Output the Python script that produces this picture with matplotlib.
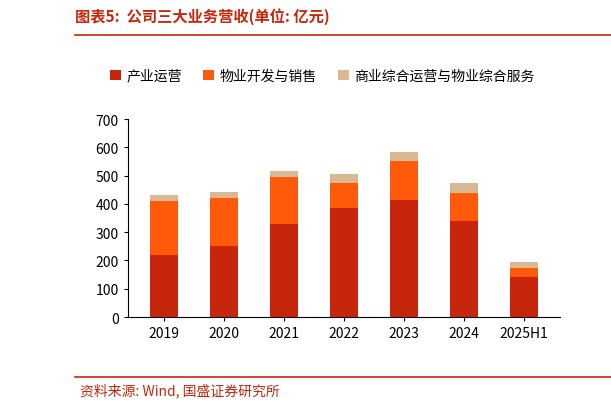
import matplotlib
matplotlib.use("Agg")
import matplotlib.pyplot as plt

plt.rcParams['font.family'] = ['Noto Sans CJK SC', 'DejaVu Sans']

years = ['2019', '2020', '2021', '2022', '2023', '2024', '2025H1']
industry = [220, 250, 328, 385, 415, 338, 143]
property_dev = [190, 172, 167, 90, 135, 102, 32]
commercial = [22, 21, 20, 30, 35, 32, 18]
labels = ['产业运营', '物业开发与销售', '商业综合运营与物业综合服务']
colors = ['#C8260C', '#FF5A0A', '#D9B894']

fig = plt.figure(figsize=(6.11, 4.10), dpi=100)
ax = fig.add_axes([128/611, 1-318/410, 432/611, 198/410])
x = range(len(years))
b1 = [i + p for i, p in zip(industry, property_dev)]
ax.bar(x, industry, width=0.48, color=colors[0], label=labels[0])
ax.bar(x, property_dev, width=0.48, bottom=industry, color=colors[1], label=labels[1])
ax.bar(x, commercial, width=0.48, bottom=b1, color=colors[2], label=labels[2])
ax.set_ylim(0, 700)
ax.set_yticks(range(0, 701, 100))
ax.set_xticks(list(x))
ax.set_xticklabels(years)
ax.set_xlim(-0.6, 6.6)
for s in ['top', 'right']:
    ax.spines[s].set_visible(False)
ax.tick_params(labelsize=10, length=3)
ax.legend(loc='lower center', bbox_to_anchor=(0.45, 1.12), ncol=3, frameon=False,
          fontsize=10, handlelength=0.8, handleheight=0.8, columnspacing=1.5, handletextpad=0.4)

fig.text(75/611, 1-17/410, '图表5:  公司三大业务营收(单位: 亿元)', color='#C8260C',
         fontsize=11, style='italic', va='center', fontweight='bold')
fig.add_artist(plt.Line2D([75/611, 1], [1-36/410, 1-36/410], color='#C8260C', lw=1.2))
fig.add_artist(plt.Line2D([75/611, 1], [1-378/410, 1-378/410], color='#C8260C', lw=1.2))
fig.text(80/611, 1-391/410, '资料来源: Wind, 国盛证券研究所', color='#C8260C',
         fontsize=10, style='italic', va='center')
fig.savefig('out.png', dpi=100)
